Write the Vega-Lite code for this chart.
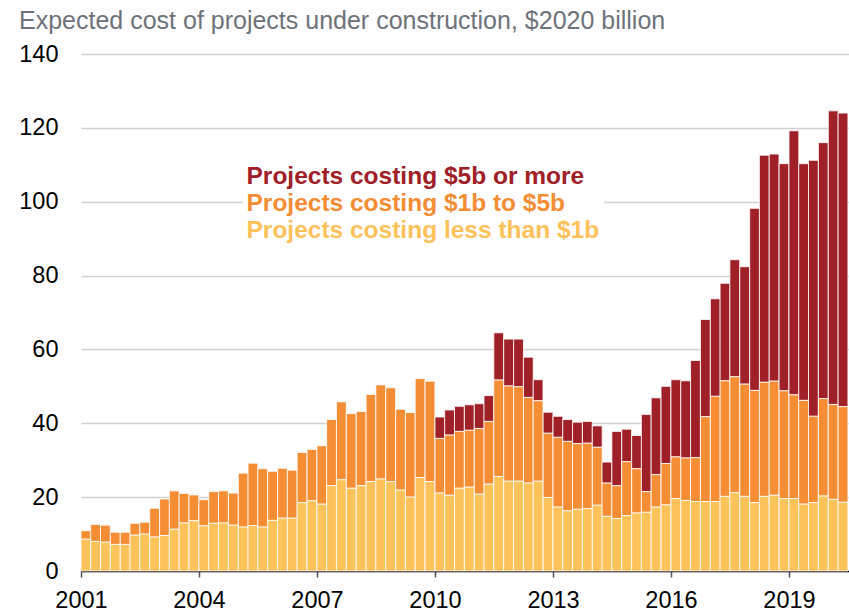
{
  "$schema": "https://vega.github.io/schema/vega-lite/v6.json",
  "autosize": {"type": "none"},
  "padding": {"left": 81, "top": 54, "right": 0, "bottom": 40},
  "width": 768,
  "height": 517,
  "title": {
    "text": "Expected cost of projects under construction, $2020 billion",
    "anchor": "start",
    "frame": "group",
    "dx": -62,
    "offset": -12,
    "baseline": "alphabetic",
    "fontSize": 25,
    "fontWeight": "normal",
    "color": "#6e737a",
    "font": "Liberation Sans"
  },
  "data": {
    "values": [
      {"date": "2001-01-01", "small": 8.6, "medium": 2.3, "large": 0},
      {"date": "2001-04-01", "small": 8.0, "medium": 4.6, "large": 0},
      {"date": "2001-07-01", "small": 7.8, "medium": 4.6, "large": 0},
      {"date": "2001-10-01", "small": 7.2, "medium": 3.3, "large": 0},
      {"date": "2002-01-01", "small": 7.2, "medium": 3.3, "large": 0},
      {"date": "2002-04-01", "small": 9.7, "medium": 3.2, "large": 0},
      {"date": "2002-07-01", "small": 10.0, "medium": 3.2, "large": 0},
      {"date": "2002-10-01", "small": 9.2, "medium": 7.8, "large": 0},
      {"date": "2003-01-01", "small": 9.6, "medium": 9.9, "large": 0},
      {"date": "2003-04-01", "small": 11.3, "medium": 10.4, "large": 0},
      {"date": "2003-07-01", "small": 13.0, "medium": 8.0, "large": 0},
      {"date": "2003-10-01", "small": 13.6, "medium": 7.0, "large": 0},
      {"date": "2004-01-01", "small": 12.2, "medium": 7.1, "large": 0},
      {"date": "2004-04-01", "small": 12.9, "medium": 8.6, "large": 0},
      {"date": "2004-07-01", "small": 13.0, "medium": 8.7, "large": 0},
      {"date": "2004-10-01", "small": 12.4, "medium": 8.7, "large": 0},
      {"date": "2005-01-01", "small": 11.9, "medium": 14.6, "large": 0},
      {"date": "2005-04-01", "small": 12.3, "medium": 16.9, "large": 0},
      {"date": "2005-07-01", "small": 11.9, "medium": 15.8, "large": 0},
      {"date": "2005-10-01", "small": 13.7, "medium": 13.3, "large": 0},
      {"date": "2006-01-01", "small": 14.3, "medium": 13.5, "large": 0},
      {"date": "2006-04-01", "small": 14.3, "medium": 13.0, "large": 0},
      {"date": "2006-07-01", "small": 18.5, "medium": 13.6, "large": 0},
      {"date": "2006-10-01", "small": 19.0, "medium": 13.9, "large": 0},
      {"date": "2007-01-01", "small": 18.1, "medium": 15.8, "large": 0},
      {"date": "2007-04-01", "small": 23.1, "medium": 17.9, "large": 0},
      {"date": "2007-07-01", "small": 24.7, "medium": 21.1, "large": 0},
      {"date": "2007-10-01", "small": 22.4, "medium": 20.2, "large": 0},
      {"date": "2008-01-01", "small": 23.1, "medium": 20.1, "large": 0},
      {"date": "2008-04-01", "small": 24.2, "medium": 23.6, "large": 0},
      {"date": "2008-07-01", "small": 24.9, "medium": 25.5, "large": 0},
      {"date": "2008-10-01", "small": 24.2, "medium": 25.4, "large": 0},
      {"date": "2009-01-01", "small": 21.9, "medium": 21.9, "large": 0},
      {"date": "2009-04-01", "small": 20.0, "medium": 22.9, "large": 0},
      {"date": "2009-07-01", "small": 25.3, "medium": 26.8, "large": 0},
      {"date": "2009-10-01", "small": 24.2, "medium": 27.2, "large": 0},
      {"date": "2010-01-01", "small": 21.1, "medium": 14.8, "large": 5.8},
      {"date": "2010-04-01", "small": 20.5, "medium": 16.3, "large": 6.8},
      {"date": "2010-07-01", "small": 22.4, "medium": 15.4, "large": 6.8},
      {"date": "2010-10-01", "small": 22.7, "medium": 15.4, "large": 6.9},
      {"date": "2011-01-01", "small": 20.8, "medium": 17.8, "large": 6.7},
      {"date": "2011-04-01", "small": 23.5, "medium": 17.0, "large": 7.0},
      {"date": "2011-07-01", "small": 25.6, "medium": 26.1, "large": 12.8},
      {"date": "2011-10-01", "small": 24.3, "medium": 25.8, "large": 12.7},
      {"date": "2012-01-01", "small": 24.3, "medium": 25.6, "large": 12.9},
      {"date": "2012-04-01", "small": 23.8, "medium": 23.2, "large": 10.9},
      {"date": "2012-07-01", "small": 24.3, "medium": 21.8, "large": 5.7},
      {"date": "2012-10-01", "small": 19.9, "medium": 17.4, "large": 5.7},
      {"date": "2013-01-01", "small": 17.3, "medium": 18.9, "large": 5.7},
      {"date": "2013-04-01", "small": 16.3, "medium": 18.8, "large": 5.9},
      {"date": "2013-07-01", "small": 16.7, "medium": 17.8, "large": 5.8},
      {"date": "2013-10-01", "small": 16.9, "medium": 17.7, "large": 5.9},
      {"date": "2014-01-01", "small": 17.8, "medium": 15.7, "large": 5.8},
      {"date": "2014-04-01", "small": 14.8, "medium": 9.0, "large": 5.7},
      {"date": "2014-07-01", "small": 14.2, "medium": 8.9, "large": 14.7},
      {"date": "2014-10-01", "small": 15.0, "medium": 14.6, "large": 8.8},
      {"date": "2015-01-01", "small": 15.7, "medium": 12.0, "large": 9.0},
      {"date": "2015-04-01", "small": 15.9, "medium": 5.6, "large": 20.9},
      {"date": "2015-07-01", "small": 17.3, "medium": 8.8, "large": 20.8},
      {"date": "2015-10-01", "small": 17.9, "medium": 11.2, "large": 20.9},
      {"date": "2016-01-01", "small": 19.6, "medium": 11.3, "large": 20.9},
      {"date": "2016-04-01", "small": 19.1, "medium": 11.5, "large": 20.9},
      {"date": "2016-07-01", "small": 18.8, "medium": 11.9, "large": 26.3},
      {"date": "2016-10-01", "small": 18.8, "medium": 23.0, "large": 26.3},
      {"date": "2017-01-01", "small": 18.8, "medium": 28.5, "large": 26.4},
      {"date": "2017-04-01", "small": 20.2, "medium": 31.3, "large": 26.4},
      {"date": "2017-07-01", "small": 21.2, "medium": 31.4, "large": 31.7},
      {"date": "2017-10-01", "small": 20.2, "medium": 30.4, "large": 31.8},
      {"date": "2018-01-01", "small": 18.5, "medium": 30.4, "large": 49.3},
      {"date": "2018-04-01", "small": 20.2, "medium": 30.9, "large": 61.5},
      {"date": "2018-07-01", "small": 20.5, "medium": 30.9, "large": 61.5},
      {"date": "2018-10-01", "small": 19.6, "medium": 29.2, "large": 61.5},
      {"date": "2019-01-01", "small": 19.6, "medium": 28.1, "large": 71.5},
      {"date": "2019-04-01", "small": 18.1, "medium": 28.1, "large": 64.1},
      {"date": "2019-07-01", "small": 18.5, "medium": 23.4, "large": 69.3},
      {"date": "2019-10-01", "small": 20.3, "medium": 26.4, "large": 69.3},
      {"date": "2020-01-01", "small": 19.4, "medium": 25.7, "large": 79.5},
      {"date": "2020-04-01", "small": 18.6, "medium": 25.9, "large": 79.5}
    ]
  },
  "transform": [
    {"fold": ["large", "medium", "small"], "as": ["size", "cost"]}
  ],
  "mark": {
    "type": "bar",
    "width": 9.8,
    "xOffset": 4.9,
    "stroke": "white",
    "strokeWidth": 1,
    "strokeOpacity": 0.8
  },
  "encoding": {
    "x": {
      "field": "date",
      "type": "temporal",
      "scale": {"type": "utc", "domain": ["2001-01-01", "2020-07-11"], "nice": false, "padding": 0},
      "axis": {
        "title": null,
        "values": [
          {"year": 2001, "utc": true}, {"year": 2004, "utc": true}, {"year": 2007, "utc": true},
          {"year": 2010, "utc": true}, {"year": 2013, "utc": true}, {"year": 2016, "utc": true},
          {"year": 2019, "utc": true}
        ],
        "format": "%Y",
        "grid": false,
        "domainColor": "#000000",
        "domainWidth": 1.5,
        "tickColor": "#555555",
        "tickWidth": 1.5,
        "tickSize": 6,
        "labelFontSize": 23.5,
        "labelFont": "Liberation Sans",
        "labelColor": "#000000",
        "labelPadding": 11,
        "labelFlush": false,
        "labelOverlap": false
      }
    },
    "y": {
      "field": "cost",
      "type": "quantitative",
      "stack": "zero",
      "scale": {"domain": [0, 140], "nice": false},
      "axis": {
        "title": null,
        "values": [0, 20, 40, 60, 80, 100, 120, 140],
        "domain": false,
        "ticks": false,
        "grid": true,
        "gridColor": "#cfd0d3",
        "gridWidth": 1.5,
        "labelFontSize": 23.5,
        "labelFont": "Liberation Sans",
        "labelColor": "#000000",
        "labelPadding": 23
      }
    },
    "color": {
      "field": "size",
      "type": "nominal",
      "scale": {"domain": ["large", "medium", "small"], "range": ["#a02028", "#f58d34", "#fec25a"]},
      "legend": {
        "orient": "none",
        "legendX": 162,
        "legendY": 107,
        "title": null,
        "fillColor": "white",
        "padding": 4,
        "symbolSize": 1,
        "symbolOpacity": 0,
        "symbolStrokeWidth": 0,
        "labelOffset": -25,
        "rowPadding": 2,
        "labelFontSize": 24.5,
        "labelFontWeight": "bold",
        "labelFont": "Liberation Sans",
        "labelLimit": 600,
        "labelColor": {"expr": "datum.value == 'large' ? '#a02028' : datum.value == 'medium' ? '#f58d34' : '#fec25a'"},
        "labelExpr": "datum.value == 'large' ? 'Projects costing $5b or more' : datum.value == 'medium' ? 'Projects costing $1b to $5b' : 'Projects costing less than $1b'"
      }
    },
    "order": {"field": "size", "sort": "descending"}
  },
  "config": {"view": {"stroke": null}}
}
